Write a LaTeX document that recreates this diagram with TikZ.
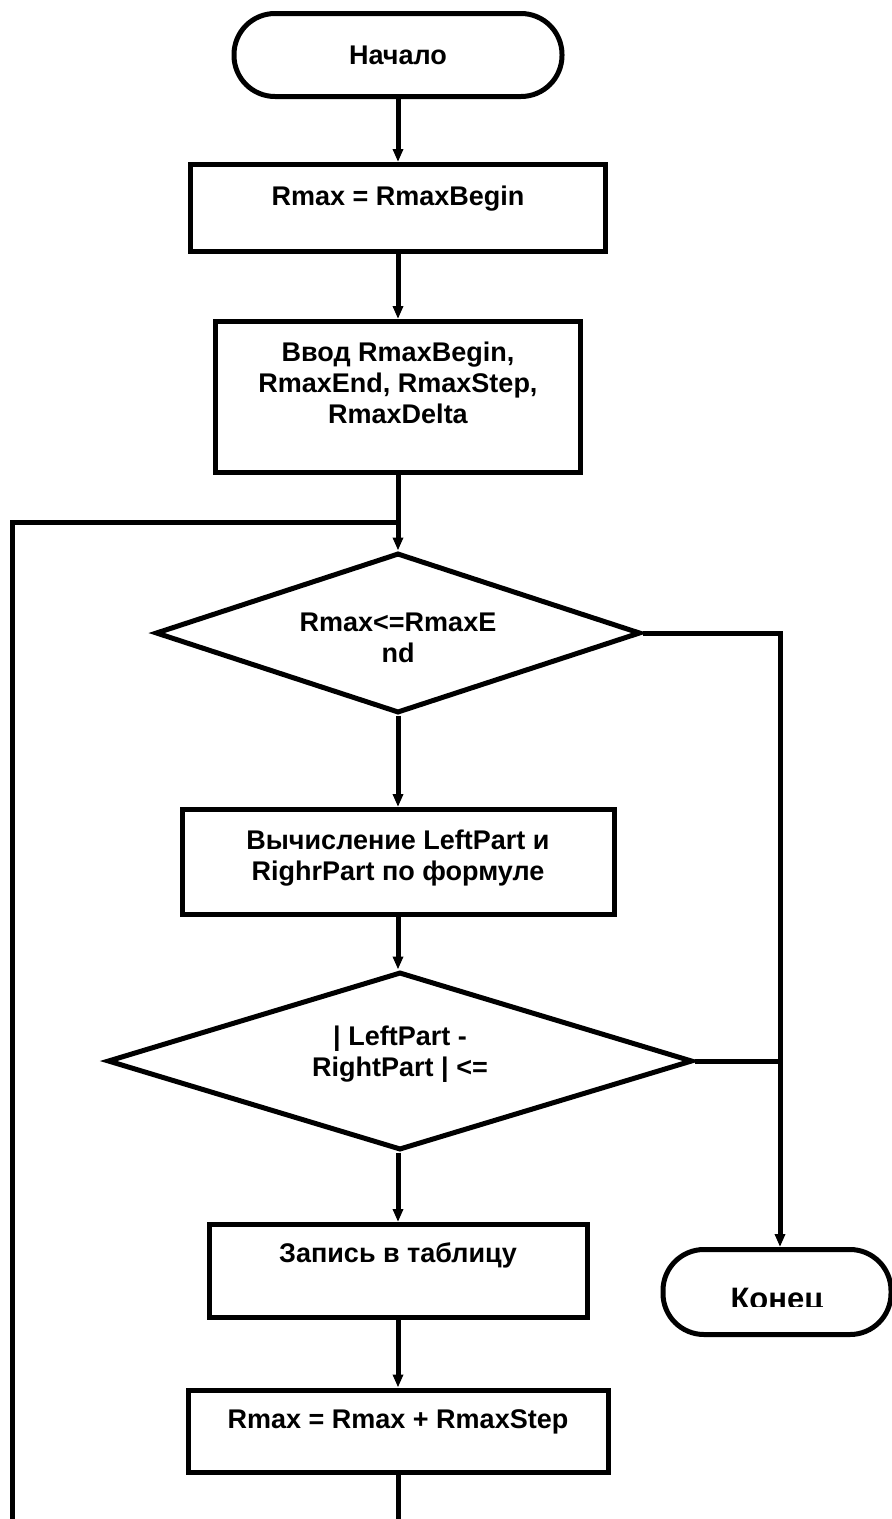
\documentclass[tikz,border=0pt]{standalone}
\usepackage{fontspec}
\setmainfont{Liberation Sans}
\usetikzlibrary{shapes.geometric,arrows.meta}

\begin{document}
\begin{tikzpicture}[x=1pt,y=-1pt,
		every node/.style={font=\fontsize{27}{31}\selectfont\bfseries},
		line/.style={line width=5pt},
		arr/.style={line width=5pt,-{Triangle[length=13pt,width=10pt]}},
		term/.style={draw,line width=5pt,rounded corners=41pt,inner sep=0pt},
		proc/.style={draw,line width=5pt,inner sep=0pt},
		cond/.style={draw,diamond,line width=5pt,inner sep=0pt},
		txt/.style={align=center,inner sep=0pt}]
	\useasboundingbox (0,0) rectangle (892,1519);
	\clip (0,0) rectangle (892,1519);
	% blocs
	\node[term,minimum width=328pt,minimum height=83pt] (debut) at (398,55) {Начало};
	\node[proc,minimum width=415pt,minimum height=87pt] (init) at (398,208) {};
	\node[txt] (initT) at (398,199) {Rmax = RmaxBegin};
	\node[proc,minimum width=365pt,minimum height=151pt] (saisie) at (398,397) {};
	\node[txt] (saisieT) at (398,383) {Ввод RmaxBegin,\\RmaxEnd, RmaxStep,\\RmaxDelta};
	\node[cond,minimum width=485pt,minimum height=160pt] (test1) at (398,633) {};
	\node[txt] (test1T) at (398,638) {Rmax<=RmaxE\\nd};
	\node[proc,minimum width=432pt,minimum height=105pt] (calcul) at (398,862) {};
	\node[txt] (calculT) at (398,858) {Вычисление LeftPart и\\RighrPart по формуле};
	\node[cond,minimum width=585pt,minimum height=178pt] (test2) at (400,1061) {};
	\node[txt] (test2T) at (400,1054) {| LeftPart -\\RightPart | <=};
	\node[proc,minimum width=378pt,minimum height=93pt] (ecrit) at (398,1271) {};
	\node[txt] (ecritT) at (398,1255) {Запись в таблицу};
	\node[proc,minimum width=420pt,minimum height=82pt] (pas) at (398,1431) {};
	\node[txt] (pasT) at (398,1422) {Rmax = Rmax + RmaxStep};
	\node[term,minimum width=228pt,minimum height=85pt] (fin) at (777,1292) {};
	% texte coupe
	\begin{scope}
		\clip (660,1250) rectangle (892,1306);
		\node[txt,anchor=base,font=\fontsize{31}{35}\selectfont\bfseries] (finT) at (777,1309) {Конец};
	\end{scope}
	% points de jonction
	\coordinate (boucleH) at (398,522);
	\coordinate (boucleG) at (12,522);
	\coordinate (boucleB) at (12,1519);
	\coordinate (coinD) at (780,633);
	\coordinate (jonctD) at (780,1061);
	\coordinate (basPas) at (398,1519);
	% fleches
	\draw[arr] (debut) -- (init);
	\draw[arr] (init) -- (saisie);
	\draw[arr] (saisie) -- (test1);
	\draw[arr] (test1) -- (calcul);
	\draw[arr] (calcul) -- (test2.north -| calcul);
	\draw[arr] (test2.south -| ecrit) -- (ecrit);
	\draw[arr] (ecrit) -- (pas);
	\draw[arr] (test1.east) -- (coinD) -- (fin.north -| coinD);
	\draw[line] (test2.east) -- (jonctD);
	% boucle
	\draw[line] (pas.south) -- (basPas);
	\draw[line] (boucleB) -- (boucleG) -- (boucleH);
\end{tikzpicture}
\end{document}
